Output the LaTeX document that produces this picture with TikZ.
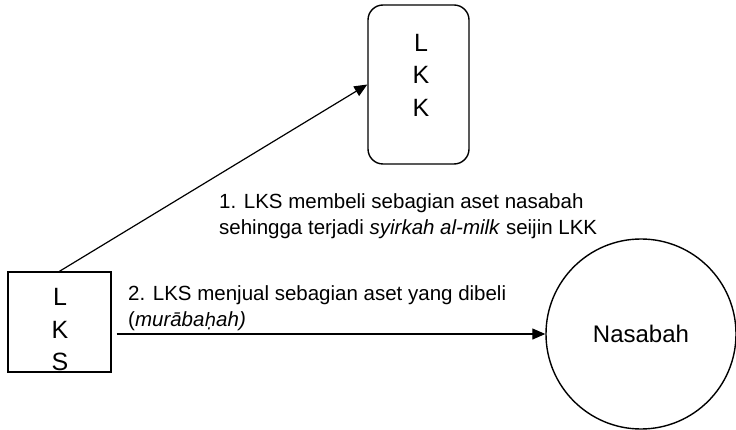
\documentclass[tikz,border=0pt]{standalone}
\usepackage{fontspec}
\setmainfont{Liberation Sans}
% Liberation Sans has no h with dot below; borrow it from DejaVu Sans
\newfontfamily\dotfont[Scale=0.9]{DejaVu Sans}
\usetikzlibrary{arrows.meta}
\tikzset{
  box/.style={draw, line width=1.4pt, inner sep=0pt},
  letters/.style={align=center, inner sep=0pt, font=\fontsize{25}{32.5}\selectfont},
  lbl/.style={align=left, inner sep=0pt, anchor=north west, font=\fontsize{20.5}{26}\selectfont},
  arr/.style={line width=1.2pt, -{Triangle[length=13pt,width=11pt]}}
}
\begin{document}
\begin{tikzpicture}[x=1pt,y=-1pt]
\path[use as bounding box] (0,0) rectangle (736,430);
% Boxes and circle
\node[box, rounded corners=15pt, minimum width=101pt, minimum height=159pt] (lkk) at (418.5,84.5) {};
\node[letters] (lkkt) at (421,75) {L\\K\\K};
\node[box, minimum width=103pt, minimum height=100pt] (lks) at (59.5,322) {};
\node[letters] (lkst) at (60,330) {L\\K\\S};
\node[box, circle, minimum size=190pt] (nas) at (641,334) {};
\node[font=\fontsize{24}{28}\selectfont] (nast) at (nas.center) {Nasabah};
% Connectors
\draw[arr] (lks.north) -- (lkk.west);
\coordinate (s2) at ([xshift=5pt]lks.east |- nas.west);
\draw[arr] (s2) -- (nas.west);
% Labels
\node[lbl] (l1) at (219,193) {1. LKS membeli sebagian aset nasabah\\sehingga terjadi \textit{syirkah al-milk} seijin LKK};
\node[lbl] (l2) at (128,285) {2. LKS menjual sebagian aset yang dibeli\\(\textit{murāba{\dotfont ḥ}ah)}};
\end{tikzpicture}
\end{document}
